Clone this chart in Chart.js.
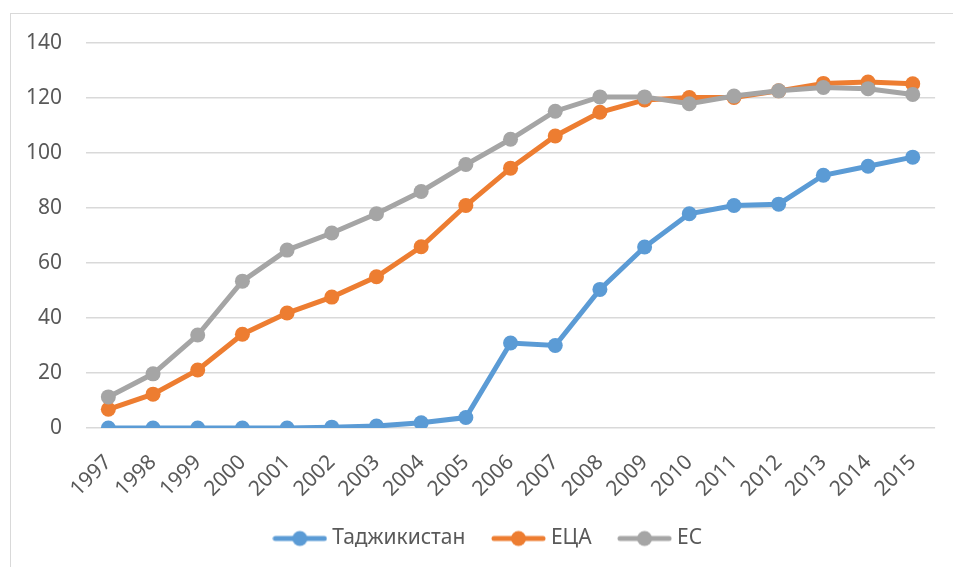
<!DOCTYPE html>
<html>
<head>
<meta charset="utf-8">
<script src="https://cdn.jsdelivr.net/npm/chart.js@4/dist/chart.umd.min.js"></script>
<style>
  html, body { margin: 0; padding: 0; background: #fff; }
  #wrap { position: relative; width: 953px; height: 567px; }
</style>
</head>
<body>
<div id="wrap"><canvas id="chart"></canvas></div>
<script>
// Years on the category axis
const years = ['1997', '1998', '1999', '2000', '2001', '2002', '2003', '2004', '2005', '2006',
    '2007', '2008', '2009', '2010', '2011', '2012', '2013', '2014', '2015'];

// Series values
const tajikistan = [0, 0, 0, 0, 0, 0.3, 0.7, 1.9, 3.8, 30.9, 30.0, 50.4, 65.8, 77.9, 80.9, 81.4, 91.9, 95.2, 98.5];
const eca = [6.8, 12.3, 21.1, 34.1, 41.8, 47.6, 55.0, 65.9, 80.9, 94.5, 106.2, 114.8, 119.3, 120.2, 120.2, 122.6, 125.3, 125.8, 125.2];
const eu = [11.3, 19.7, 33.8, 53.4, 64.7, 70.9, 77.9, 86.0, 95.8, 105.0, 115.2, 120.4, 120.4, 117.9, 120.7, 122.6, 123.8, 123.4, 121.3];

const yTicks = [0, 20, 40, 60, 80, 100, 120, 140];

const textColor = '#595959';
const gridColor = '#D9D9D9';
const fontFamily = '"Noto Sans", "Liberation Sans", sans-serif';
const fontSize = 21;

/**
 * Build a small line-with-marker image for the legend
 */
function legendMarker(color) {
    const c = document.createElement('canvas');
    c.width = 55;
    c.height = 18;
    const ctx = c.getContext('2d');
    ctx.strokeStyle = color;
    ctx.lineWidth = 5;
    ctx.lineCap = 'round';
    ctx.beginPath();
    ctx.moveTo(3, 9);
    ctx.lineTo(52, 9);
    ctx.stroke();
    ctx.fillStyle = color;
    ctx.beginPath();
    ctx.arc(27.5, 9, 7.5, 0, Math.PI * 2);
    ctx.fill();
    return c;
}

// Light frame around the chart, and nudge the legend so it is centred like the original
const framePlugin = {
    id: 'frame',
    afterLayout(chart) {
        if (chart.legend) {
            chart.legend.left += 17;
            chart.legend.right += 17;
        }
    },
    beforeDraw(chart) {
        const ctx = chart.ctx;
        ctx.save();
        ctx.strokeStyle = gridColor;
        ctx.lineWidth = 1;
        ctx.strokeRect(10.5, 13.5, 1000, 700);
        ctx.restore();
    }
};

function series(label, data, color, order) {
    return {
        label: label,
        data: data,
        borderColor: color,
        backgroundColor: color,
        borderWidth: 5,
        pointRadius: 7.5,
        pointHoverRadius: 7.5,
        pointBorderWidth: 0,
        tension: 0,
        order: order,
        legendImage: legendMarker(color)
    };
}

new Chart(document.getElementById('chart'), {
    type: 'line',
    data: {
        labels: years,
        datasets: [
            series('Таджикистан', tajikistan, '#5B9BD5', 3),
            series('ЕЦА', eca, '#ED7D31', 2),
            series('ЕС', eu, '#A5A5A5', 1)
        ]
    },
    plugins: [framePlugin],
    options: {
        responsive: true,
        maintainAspectRatio: false,
        animation: false,
        layout: { padding: { left: 10, right: 17, top: 43, bottom: 8 } },
        plugins: {
            tooltip: { enabled: false },
            legend: {
                position: 'bottom',
                labels: {
                    usePointStyle: true,
                    pointStyleWidth: 44,
                    padding: 31,
                    color: textColor,
                    font: { family: fontFamily, size: fontSize },
                    sort: (a, b) => a.datasetIndex - b.datasetIndex,
                    generateLabels(chart) {
                        const items = Chart.defaults.plugins.legend.labels.generateLabels(chart);
                        items.forEach(item => {
                            item.pointStyle = chart.data.datasets[item.datasetIndex].legendImage;
                        });
                        return items;
                    }
                }
            }
        },
        scales: {
            x: {
                offset: true,
                grid: { display: false, drawTicks: false },
                border: { display: false },
                ticks: {
                    color: textColor,
                    font: { family: fontFamily, size: fontSize },
                    minRotation: 45,
                    maxRotation: 45,
                    autoSkip: false,
                    padding: 22
                },
                afterFit(scale) { scale.height = 69; }
            },
            y: {
                min: 0,
                max: 140,
                afterBuildTicks(scale) { scale.ticks = yTicks.map(v => ({ value: v })); },
                grid: { color: gridColor, lineWidth: 1.5, drawTicks: false },
                border: { display: false },
                ticks: {
                    color: textColor,
                    font: { family: fontFamily, size: fontSize },
                    padding: 24
                },
                afterFit(scale) { scale.width = 76; }
            }
        }
    }
});
</script>
</body>
</html>
